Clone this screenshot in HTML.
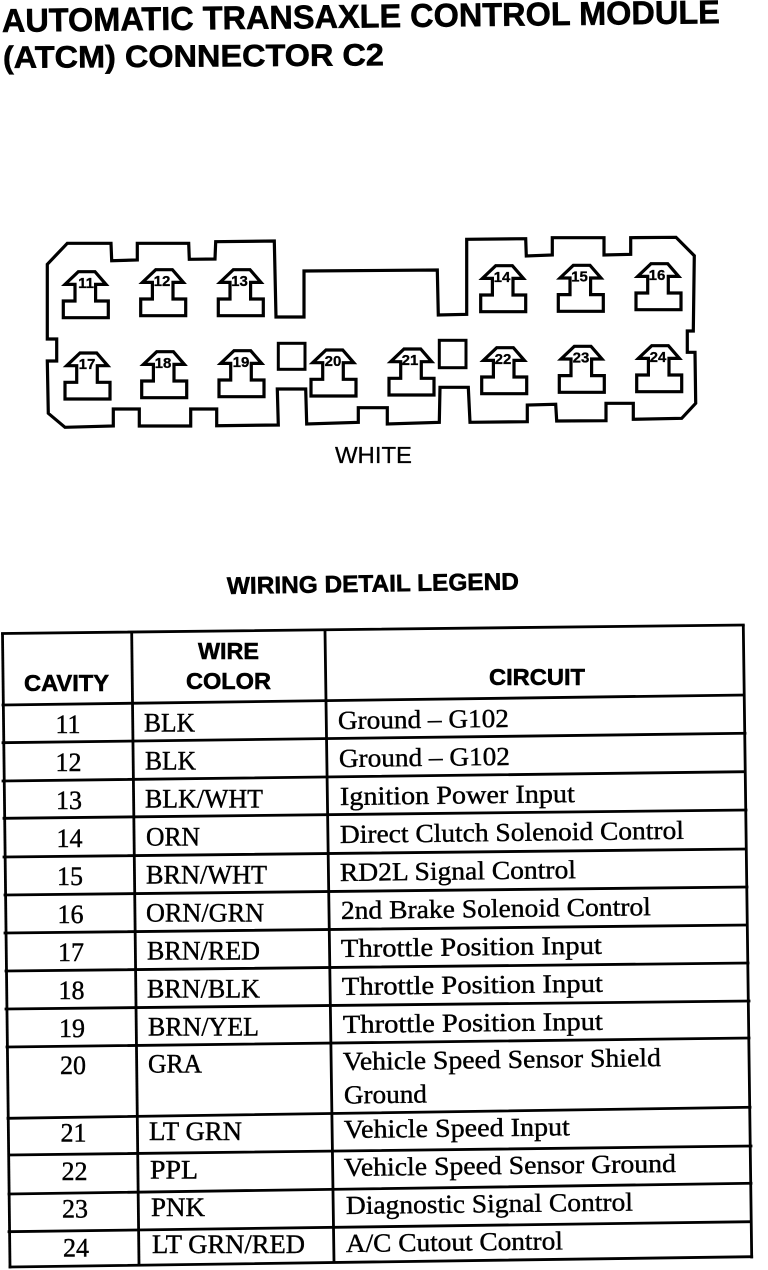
<!DOCTYPE html>
<html lang="en">
<head>
<meta charset="utf-8">
<title>ATCM Connector C2</title>
<style>
html,body{margin:0;padding:0;background:#fff}
svg{display:block}
.h{font-family:"Liberation Sans",Arial,sans-serif;font-weight:700;fill:#000;stroke:#000;stroke-width:.55}
.n{font-family:"Liberation Sans",Arial,sans-serif;font-weight:700;font-size:15px;fill:#000;text-anchor:middle;stroke:#000;stroke-width:.3}
.s{font-family:"Liberation Serif","Times New Roman",serif;font-size:26px;fill:#000;stroke:#000;stroke-width:.4}
.c{text-anchor:middle}
</style>
</head>
<body>
<svg xmlns="http://www.w3.org/2000/svg" width="768" height="1270" viewBox="0 0 768 1270">
<rect width="768" height="1270" fill="#fff"/>

<text class="h" font-size="33" x="2" y="32" textLength="718" lengthAdjust="spacingAndGlyphs" transform="rotate(-.7 2 32)">AUTOMATIC TRANSAXLE CONTROL MODULE</text>
<text class="h" font-size="31" x="3" y="68" textLength="381" lengthAdjust="spacingAndGlyphs" transform="rotate(-.4 3 68)">(ATCM) CONNECTOR C2</text>

<polygon fill="none" stroke="#000" stroke-width="3.2" stroke-linejoin="miter" points="47.3,264.3 67.3,243.3 111,243.3 111.7,260.7 137.3,260 137.3,243.3 188.7,243.3 189.3,259.3 215,259 215.7,241.7 274.3,241 276,317 304,317 304,271 437.3,270 438.3,315 466.7,314.3 466.7,239.3 525.7,238.7 526.3,256 552.3,255 552.3,237.7 604,237.7 604,255 630.7,254.3 630.7,237.7 676,237.3 694.3,255.7 693.3,331 687.3,331 687.3,352.3 695,352.3 695.7,403.3 681.7,418.3 633.3,419.3 633.3,403.3 606,403.3 606,420.7 556.7,421 555.7,404.3 527.3,405 527.3,421.7 470,422.3 468.3,387.3 440,387.3 439.3,422.3 387.3,424 387.3,407.7 358.3,407.7 358.3,422.3 306.7,424 305.7,389 277.3,389 278.3,425 216.7,425.7 216.7,409 190.7,409 190.7,426 139.3,426 139.3,409 113.3,409 113.3,426 65,427.3 48.3,413.3 47.3,361 56.7,361 56.7,339 47.3,339"/>
<rect x="278.3" y="343.3" width="26.7" height="26" fill="none" stroke="#000" stroke-width="3"/>
<rect x="439.3" y="340.3" width="26.7" height="27.4" fill="none" stroke="#000" stroke-width="3"/>

<g fill="none" stroke="#000" stroke-width="3.2">
<polygon transform="translate(63.3 271.7)" points="15,0 31.7,0 42.7,12.7 32.3,12.7 32.3,29.3 45,29.3 45,46 0,46 0,29.3 11.7,29.3 11.7,12.7 1.7,12.7"/>
<polygon transform="translate(140.7 269.7)" points="15,0 31.7,0 42.7,12.7 32.3,12.7 32.3,29.3 45,29.3 45,46 0,46 0,29.3 11.7,29.3 11.7,12.7 1.7,12.7"/>
<polygon transform="translate(218.3 269.7)" points="15,0 31.7,0 42.7,12.7 32.3,12.7 32.3,29.3 45,29.3 45,46 0,46 0,29.3 11.7,29.3 11.7,12.7 1.7,12.7"/>
<polygon transform="translate(480.7 265.7)" points="15,0 31.7,0 42.7,12.7 32.3,12.7 32.3,29.3 45,29.3 45,46 0,46 0,29.3 11.7,29.3 11.7,12.7 1.7,12.7"/>
<polygon transform="translate(558.3 265.3)" points="15,0 31.7,0 42.7,12.7 32.3,12.7 32.3,29.3 45,29.3 45,46 0,46 0,29.3 11.7,29.3 11.7,12.7 1.7,12.7"/>
<polygon transform="translate(636 263.7)" points="15,0 31.7,0 42.7,12.7 32.3,12.7 32.3,29.3 45,29.3 45,46 0,46 0,29.3 11.7,29.3 11.7,12.7 1.7,12.7"/>
<polygon transform="translate(65 353)" points="15,0 31.7,0 42.7,12.7 32.3,12.7 32.3,29.3 45,29.3 45,46 0,46 0,29.3 11.7,29.3 11.7,12.7 1.7,12.7"/>
<polygon transform="translate(141.7 351.7)" points="15,0 31.7,0 42.7,12.7 32.3,12.7 32.3,29.3 45,29.3 45,46 0,46 0,29.3 11.7,29.3 11.7,12.7 1.7,12.7"/>
<polygon transform="translate(219 350.7)" points="15,0 31.7,0 42.7,12.7 32.3,12.7 32.3,29.3 45,29.3 45,46 0,46 0,29.3 11.7,29.3 11.7,12.7 1.7,12.7"/>
<polygon transform="translate(311 350)" points="15,0 31.7,0 42.7,12.7 32.3,12.7 32.3,29.3 45,29.3 45,46 0,46 0,29.3 11.7,29.3 11.7,12.7 1.7,12.7"/>
<polygon transform="translate(389 349)" points="15,0 31.7,0 42.7,12.7 32.3,12.7 32.3,29.3 45,29.3 45,46 0,46 0,29.3 11.7,29.3 11.7,12.7 1.7,12.7"/>
<polygon transform="translate(481.7 347.7)" points="15,0 31.7,0 42.7,12.7 32.3,12.7 32.3,29.3 45,29.3 45,46 0,46 0,29.3 11.7,29.3 11.7,12.7 1.7,12.7"/>
<polygon transform="translate(559.3 346.3)" points="15,0 31.7,0 42.7,12.7 32.3,12.7 32.3,29.3 45,29.3 45,46 0,46 0,29.3 11.7,29.3 11.7,12.7 1.7,12.7"/>
<polygon transform="translate(636.7 345.7)" points="15,0 31.7,0 42.7,12.7 32.3,12.7 32.3,29.3 45,29.3 45,46 0,46 0,29.3 11.7,29.3 11.7,12.7 1.7,12.7"/>
</g>

<text class="n" x="86" y="288">11</text>
<text class="n" x="162" y="286">12</text>
<text class="n" x="239.5" y="286">13</text>
<text class="n" x="502" y="282">14</text>
<text class="n" x="579.5" y="281.5">15</text>
<text class="n" x="657" y="280">16</text>
<text class="n" x="87" y="369">17</text>
<text class="n" x="163" y="368">18</text>
<text class="n" x="241" y="367">19</text>
<text class="n" x="333" y="366">20</text>
<text class="n" x="410" y="365">21</text>
<text class="n" x="503" y="364">22</text>
<text class="n" x="581" y="362.5">23</text>
<text class="n" x="658" y="362">24</text>

<text class="h" font-size="23" style="font-weight:400;stroke-width:.3" x="335" y="463" textLength="77" lengthAdjust="spacingAndGlyphs">WHITE</text>
<text class="h" font-size="24" x="227" y="594" textLength="292" lengthAdjust="spacingAndGlyphs" transform="rotate(-.9 227 594)">WIRING DETAIL LEGEND</text>

<g stroke="#000" stroke-width="2.8" fill="none" stroke-linecap="square">
<line x1="2.5" y1="634" x2="10" y2="1267"/>
<line x1="131.7" y1="633" x2="139" y2="1265"/>
<line x1="325" y1="631" x2="334" y2="1262"/>
<line x1="743.3" y1="626" x2="751.7" y2="1257"/>
<line x1="2.5" y1="633.5" x2="743.3" y2="625"/>
<line x1="3" y1="705" x2="744" y2="695"/>
<line x1="3" y1="742.7" x2="745" y2="733.3"/>
<line x1="3" y1="781" x2="745" y2="771.7"/>
<line x1="4" y1="818.3" x2="746" y2="810"/>
<line x1="4" y1="857" x2="746" y2="849"/>
<line x1="5" y1="895" x2="747" y2="887"/>
<line x1="5" y1="933" x2="747" y2="925"/>
<line x1="6" y1="971" x2="748" y2="963"/>
<line x1="6" y1="1009" x2="749" y2="1001"/>
<line x1="7" y1="1047" x2="749" y2="1038"/>
<line x1="8" y1="1118.3" x2="750" y2="1107.3"/>
<line x1="9" y1="1155" x2="751" y2="1146"/>
<line x1="9" y1="1194" x2="751" y2="1183.3"/>
<line x1="9" y1="1231.7" x2="751" y2="1221.7"/>
<line x1="10" y1="1267" x2="751.7" y2="1256.7"/>
</g>

<text class="h" font-size="23" x="24" y="691" textLength="85" lengthAdjust="spacingAndGlyphs">CAVITY</text>
<text class="h" font-size="23" x="198" y="659" textLength="61" lengthAdjust="spacingAndGlyphs">WIRE</text>
<text class="h" font-size="23" x="186" y="689" textLength="85" lengthAdjust="spacingAndGlyphs">COLOR</text>
<text class="h" font-size="23" x="489" y="685" textLength="96" lengthAdjust="spacingAndGlyphs">CIRCUIT</text>

<text class="s c" x="68" y="733">11</text>
<text class="s c" x="68.5" y="771">12</text>
<text class="s c" x="69" y="809">13</text>
<text class="s c" x="69.5" y="847">14</text>
<text class="s c" x="70" y="885">15</text>
<text class="s c" x="70.5" y="923">16</text>
<text class="s c" x="71" y="961">17</text>
<text class="s c" x="71.5" y="999">18</text>
<text class="s c" x="72" y="1037">19</text>
<text class="s c" x="73" y="1074">20</text>
<text class="s c" x="73.5" y="1141.7">21</text>
<text class="s c" x="74.5" y="1180">22</text>
<text class="s c" x="75" y="1217.7">23</text>
<text class="s c" x="76" y="1256.7">24</text>

<text class="s" x="144" y="731.5" textLength="51" lengthAdjust="spacingAndGlyphs">BLK</text>
<text class="s" x="145" y="769.5" textLength="51" lengthAdjust="spacingAndGlyphs">BLK</text>
<text class="s" x="145" y="807.5" textLength="118" lengthAdjust="spacingAndGlyphs">BLK/WHT</text>
<text class="s" x="146" y="845.5" textLength="54" lengthAdjust="spacingAndGlyphs">ORN</text>
<text class="s" x="146" y="883.5" textLength="121" lengthAdjust="spacingAndGlyphs">BRN/WHT</text>
<text class="s" x="146" y="921.5" textLength="118" lengthAdjust="spacingAndGlyphs">ORN/GRN</text>
<text class="s" x="147" y="959.5" textLength="113" lengthAdjust="spacingAndGlyphs">BRN/RED</text>
<text class="s" x="147" y="997.5" textLength="113" lengthAdjust="spacingAndGlyphs">BRN/BLK</text>
<text class="s" x="148" y="1035.5" textLength="111" lengthAdjust="spacingAndGlyphs">BRN/YEL</text>
<text class="s" x="148" y="1072.5" textLength="54" lengthAdjust="spacingAndGlyphs">GRA</text>
<text class="s" x="149" y="1140" textLength="93" lengthAdjust="spacingAndGlyphs">LT GRN</text>
<text class="s" x="150" y="1178.5" textLength="48" lengthAdjust="spacingAndGlyphs">PPL</text>
<text class="s" x="151" y="1216" textLength="54" lengthAdjust="spacingAndGlyphs">PNK</text>
<text class="s" x="152" y="1253" textLength="153" lengthAdjust="spacingAndGlyphs">LT GRN/RED</text>

<text class="s" x="338" y="729" textLength="171" lengthAdjust="spacingAndGlyphs" transform="rotate(-.7 338 729)">Ground – G102</text>
<text class="s" x="339" y="767" textLength="171" lengthAdjust="spacingAndGlyphs" transform="rotate(-.7 339 767)">Ground – G102</text>
<text class="s" x="340" y="805" textLength="235" lengthAdjust="spacingAndGlyphs" transform="rotate(-.7 340 805)">Ignition Power Input</text>
<text class="s" x="340" y="843" textLength="344" lengthAdjust="spacingAndGlyphs" transform="rotate(-.7 340 843)">Direct Clutch Solenoid Control</text>
<text class="s" x="340" y="881" textLength="236" lengthAdjust="spacingAndGlyphs" transform="rotate(-.7 340 881)">RD2L Signal Control</text>
<text class="s" x="341" y="919" textLength="310" lengthAdjust="spacingAndGlyphs" transform="rotate(-.7 341 919)">2nd Brake Solenoid Control</text>
<text class="s" x="341" y="957" textLength="261" lengthAdjust="spacingAndGlyphs" transform="rotate(-.7 341 957)">Throttle Position Input</text>
<text class="s" x="342" y="995" textLength="261" lengthAdjust="spacingAndGlyphs" transform="rotate(-.7 342 995)">Throttle Position Input</text>
<text class="s" x="343" y="1033" textLength="260" lengthAdjust="spacingAndGlyphs" transform="rotate(-.7 343 1033)">Throttle Position Input</text>
<text class="s" x="343" y="1070" textLength="318" lengthAdjust="spacingAndGlyphs" transform="rotate(-.7 343 1070)">Vehicle Speed Sensor Shield</text>
<text class="s" x="344" y="1103.5" textLength="83" lengthAdjust="spacingAndGlyphs" transform="rotate(-.7 344 1103.5)">Ground</text>
<text class="s" x="344" y="1138" textLength="226" lengthAdjust="spacingAndGlyphs" transform="rotate(-.7 344 1138)">Vehicle Speed Input</text>
<text class="s" x="344" y="1176" textLength="332" lengthAdjust="spacingAndGlyphs" transform="rotate(-.7 344 1176)">Vehicle Speed Sensor Ground</text>
<text class="s" x="346" y="1214" textLength="287" lengthAdjust="spacingAndGlyphs" transform="rotate(-.7 346 1214)">Diagnostic Signal Control</text>
<text class="s" x="346" y="1252" textLength="217" lengthAdjust="spacingAndGlyphs" transform="rotate(-.7 346 1252)">A/C Cutout Control</text>
</svg>
</body>
</html>
